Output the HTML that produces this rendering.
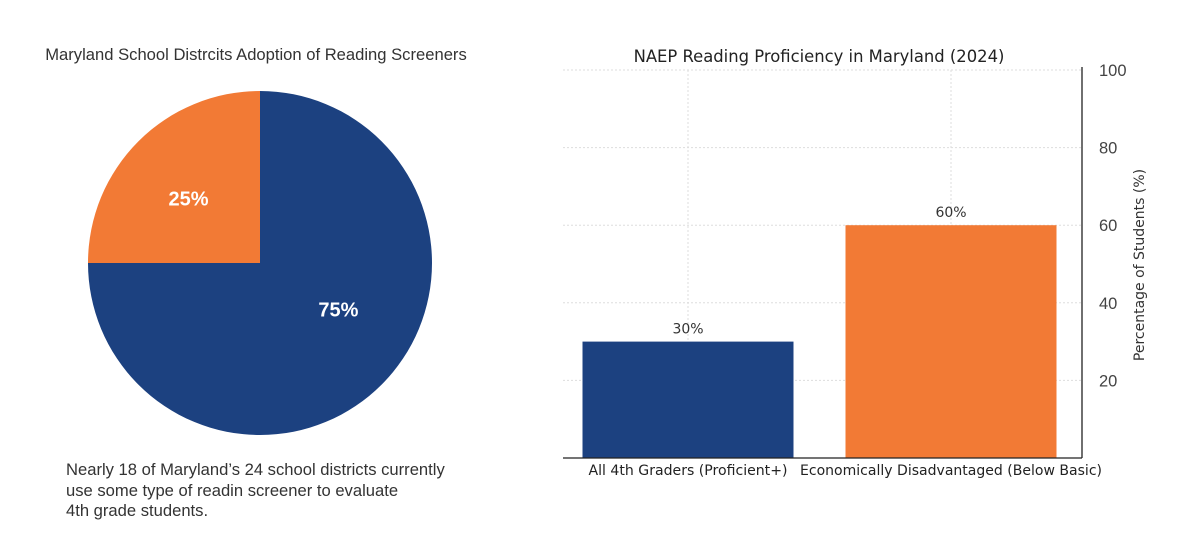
<!DOCTYPE html>
<html><head><meta charset="utf-8"><style>
body{margin:0;background:#fff;width:1200px;height:557px;overflow:hidden;position:relative;font-family:"Liberation Sans",sans-serif}
</style></head><body>
<svg width="1200" height="557" style="position:absolute;left:0;top:0">
<text x="256" y="60" text-anchor="middle" font-size="16.6" fill="#333" font-family="Liberation Sans,sans-serif">Maryland School Distrcits Adoption of Reading Screeners</text>
<g id="pie"></g>
<text font-size="16.6" fill="#333" font-family="Liberation Sans,sans-serif">
<tspan x="66" y="475">Nearly 18 of Maryland’s 24 school districts currently</tspan>
<tspan x="66" y="496">use some type of readin screener to evaluate</tspan>
<tspan x="66" y="516">4th grade students.</tspan></text>
<text x="819" y="62" text-anchor="middle" font-size="16.4" fill="#222" font-family="DejaVu Sans,sans-serif">NAEP Reading Proficiency in Maryland (2024)</text>
<g id="bars"></g>
<text transform="translate(1144,265) rotate(-90)" text-anchor="middle" font-size="14" fill="#333" font-family="DejaVu Sans,sans-serif">Percentage of Students (%)</text>
</svg>
<script>
const pieLabels=["Adopted","Not adopted"];
const pieValues=[75,25];
const pieColors=["#1c4180","#f27a35"];
const barCategories=["All 4th Graders (Proficient+)","Economically Disadvantaged (Below Basic)"];
const barValues=[30,60];
const barColors=["#1c4180","#f27a35"];
const yTicks=[20,40,60,80,100];
const NS="http://www.w3.org/2000/svg";
function mk(t,a,p){const e=document.createElementNS(NS,t);for(const k in a)e.setAttribute(k,a[k]);p.appendChild(e);return e;}
// pie
const pg=document.getElementById('pie');
const cx=260,cy=263,r=172;
const tot=pieValues.reduce((a,b)=>a+b,0);
let ang=0;
pieValues.forEach((v,i)=>{
  const a0=ang,a1=ang+v/tot*2*Math.PI;ang=a1;
  const p=(a)=>[cx+r*Math.sin(a),cy-r*Math.cos(a)];
  const [x0,y0]=p(a0),[x1,y1]=p(a1);
  const large=(a1-a0)>Math.PI?1:0;
  const s=mk('path',{d:`M${cx},${cy}L${x0},${y0}A${r},${r} 0 ${large} 1 ${x1},${y1}Z`,fill:pieColors[i]},pg);
  
  
  const m=(a0+a1)/2-(i===0?0.25:0.05),lr=r*(i===0?0.53:0.56);
  const t=mk('text',{x:cx+lr*Math.sin(m),y:cy-lr*Math.cos(m)+7,'text-anchor':'middle','font-size':'20','font-weight':'bold',fill:'#fff'},pg);
  t.textContent=v+'%';
  
  
});
// bars
const bg=document.getElementById('bars');
const L=563,R=1082,T=70,B=458;
const y=v=>B-(v/100)*(B-T);
const cxs=i=>688+(951-688)*i;
yTicks.forEach(t=>{
  const g=mk('line',{x1:L,x2:R,y1:y(t),y2:y(t),stroke:'#ddd','stroke-dasharray':'2,2'},bg);
  
  
  const tl=mk('text',{x:1099,y:y(t)+6,'font-size':'16.5',fill:'#444','font-family':'Liberation Sans,sans-serif'},bg);
  tl.textContent=t;
  
  
});
barCategories.forEach((c,i)=>{
  const x=cxs(i);
  mk('line',{x1:x,x2:x,y1:T,y2:B,stroke:'#ddd','stroke-dasharray':'2,2'},bg);
});
barCategories.forEach((c,i)=>{
  const x=cxs(i),w=211;
  const r2=mk('rect',{x:x-w/2,y:y(barValues[i]),width:w,height:B-y(barValues[i]),fill:barColors[i]},bg);
  
  
  const v=mk('text',{x:x,y:y(barValues[i])-8,'text-anchor':'middle','font-size':'14','fill':'#333','font-family':'DejaVu Sans,sans-serif'},bg);
  v.textContent=barValues[i]+'%';
  
  
  const l=mk('text',{x:x,y:B+17,'text-anchor':'middle','font-size':'14','fill':'#222','font-family':'DejaVu Sans,sans-serif',textLength:i===0?199:302,lengthAdjust:'spacingAndGlyphs'},bg);
  l.textContent=c;
  
  
});
mk('line',{x1:L,x2:R,y1:B,y2:B,stroke:'#222','stroke-width':1.3},bg);
mk('line',{x1:R,x2:R,y1:T-3,y2:B,stroke:'#222','stroke-width':1.3},bg);
</script>
</body></html>
